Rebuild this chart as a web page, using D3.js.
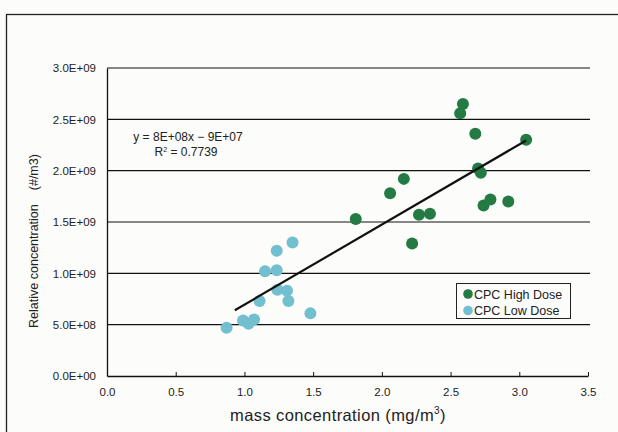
<!DOCTYPE html>
<html>
<head>
<meta charset="utf-8">
<script src="https://cdn.jsdelivr.net/npm/d3@7"></script>
<style>
  body { margin: 0; background: #fcfcfa; }
  svg { display: block; font-family: "Liberation Sans", Arial, sans-serif; }
</style>
</head>
<body>
<div id="chart"></div>
<script>
// CPC high dose: mass concentration (mg/m3), relative concentration (#/m3)
var highX = [1.81, 2.06, 2.16, 2.22, 2.27, 2.35, 2.57, 2.59, 2.68, 2.70, 2.72, 2.74, 2.79, 2.92, 3.05];
var highY = [1.53e9, 1.78e9, 1.92e9, 1.29e9, 1.57e9, 1.58e9, 2.56e9, 2.65e9, 2.36e9, 2.02e9, 1.98e9, 1.66e9, 1.72e9, 1.70e9, 2.30e9];

// CPC low dose
var lowX = [0.87, 0.99, 1.03, 1.07, 1.11, 1.15, 1.235, 1.235, 1.24, 1.31, 1.32, 1.35, 1.48];
var lowY = [0.47e9, 0.54e9, 0.51e9, 0.55e9, 0.73e9, 1.02e9, 1.03e9, 1.22e9, 0.84e9, 0.83e9, 0.73e9, 1.30e9, 0.61e9];

// linear trendline as shown in the chart
var trendSlope = 7.8e8;
var trendIntercept = -8.5e7;
var trendRange = [0.93, 3.05];

var xTicks = [0, 0.5, 1, 1.5, 2, 2.5, 3, 3.5];
var yTicks = [0, 5e8, 1e9, 1.5e9, 2e9, 2.5e9, 3e9];
var yTickLabels = ["0.0E+00", "5.0E+08", "1.0E+09", "1.5E+09", "2.0E+09", "2.5E+09", "3.0E+09"];
var legendNames = ["CPC High Dose", "CPC Low Dose"];

var W = 618, H = 432;
var green = "#237b43", blue = "#72bfd0";

var svg = d3.select("#chart").append("svg")
    .attr("width", W)
    .attr("height", H);

// outer chart frame (right / bottom run off the picture)
svg.append("rect")
    .attr("x", 6.5).attr("y", 14.5)
    .attr("width", 640).attr("height", 440)
    .attr("fill", "none")
    .attr("stroke", "#222")
    .attr("stroke-width", 1.3);

var x = d3.scaleLinear().domain([0, 3.5]).range([107, 588]);
var y = d3.scaleLinear().domain([0, 3e9]).range([376, 68]);

// horizontal gridlines
svg.append("g").selectAll("line")
    .data(yTicks.filter(function(d) { return d > 0; }))
    .join("line")
    .attr("x1", x(0)).attr("x2", 590)
    .attr("y1", function(d) { return y(d); })
    .attr("y2", function(d) { return y(d); })
    .attr("stroke", "#111")
    .attr("stroke-width", 1.2);

// y axis
var yAxis = svg.append("g")
    .attr("transform", "translate(" + x(0) + ",0)")
    .call(d3.axisLeft(y).tickValues(yTicks).tickSize(0).tickPadding(11)
        .tickFormat(function(d, i) { return yTickLabels[i]; }));
yAxis.select(".domain").attr("stroke", "#111").attr("stroke-width", 1.3);
yAxis.selectAll("text").attr("font-size", 11.5).attr("fill", "#222")
    .attr("font-family", "Liberation Sans, Arial, sans-serif");

// x axis, ticks point upward
var xAxis = svg.append("g")
    .attr("transform", "translate(0," + y(0) + ")")
    .call(d3.axisBottom(x).tickValues(xTicks).tickSizeInner(-4).tickSizeOuter(0).tickPadding(12)
        .tickFormat(d3.format(".1f")));
xAxis.select(".domain").attr("stroke", "#111").attr("stroke-width", 1.3);
xAxis.selectAll(".tick line").attr("stroke", "#111");
xAxis.selectAll("text").attr("font-size", 11.5).attr("fill", "#222")
    .attr("font-family", "Liberation Sans, Arial, sans-serif");

// axis titles
var yt = svg.append("text")
    .attr("transform", "translate(38,241) rotate(-90)")
    .attr("text-anchor", "middle")
    .attr("font-size", 12.5)
    .attr("fill", "#222");
yt.append("tspan").text("Relative concentration");
yt.append("tspan").attr("dx", 14).text("(#/m3)");

var xt = svg.append("text")
    .attr("x", 338).attr("y", 421)
    .attr("text-anchor", "middle")
    .attr("font-size", 16.5)
    .attr("letter-spacing", 0.4)
    .attr("fill", "#222");
xt.append("tspan").text("mass concentration");
xt.append("tspan").attr("dx", 5).text("(mg/m");
xt.append("tspan").attr("font-size", 10).attr("dy", -7).text("3");
xt.append("tspan").attr("dy", 7).text(")");

// points
function drawPoints(xs, ys, color) {
    svg.append("g").selectAll("circle")
        .data(xs.map(function(v, i) { return [v, ys[i]]; }))
        .join("circle")
        .attr("cx", function(d) { return x(d[0]); })
        .attr("cy", function(d) { return y(d[1]); })
        .attr("r", 6)
        .attr("fill", color);
}
drawPoints(lowX, lowY, blue);
drawPoints(highX, highY, green);

// trendline
svg.append("line")
    .attr("x1", x(trendRange[0]))
    .attr("y1", y(trendSlope * trendRange[0] + trendIntercept))
    .attr("x2", x(trendRange[1]))
    .attr("y2", y(trendSlope * trendRange[1] + trendIntercept))
    .attr("stroke", "#111")
    .attr("stroke-width", 2.2);

// equation
svg.append("text")
    .attr("x", 188).attr("y", 141)
    .attr("text-anchor", "middle")
    .attr("font-size", 12).attr("fill", "#222")
    .text("y = 8E+08x \u2212 9E+07");
var r2 = svg.append("text")
    .attr("x", 186).attr("y", 156)
    .attr("text-anchor", "middle")
    .attr("font-size", 12).attr("fill", "#222");
r2.append("tspan").text("R");
r2.append("tspan").attr("font-size", 7).attr("dy", -4).text("2");
r2.append("tspan").attr("dy", 4).text(" = 0.7739");

// legend
var lg = svg.append("g");
lg.append("rect")
    .attr("x", 456.5).attr("y", 283.5)
    .attr("width", 114).attr("height", 35)
    .attr("fill", "#fcfcfa")
    .attr("stroke", "#222")
    .attr("stroke-width", 1);
[green, blue].forEach(function(c, i) {
    lg.append("circle")
        .attr("cx", 468).attr("cy", 294 + i * 16.5)
        .attr("r", 4.8)
        .attr("fill", c);
    lg.append("text")
        .attr("x", 474).attr("y", 298.5 + i * 16.5)
        .attr("font-size", 12.5).attr("fill", "#222")
        .text(legendNames[i]);
});
</script>
</body>
</html>
